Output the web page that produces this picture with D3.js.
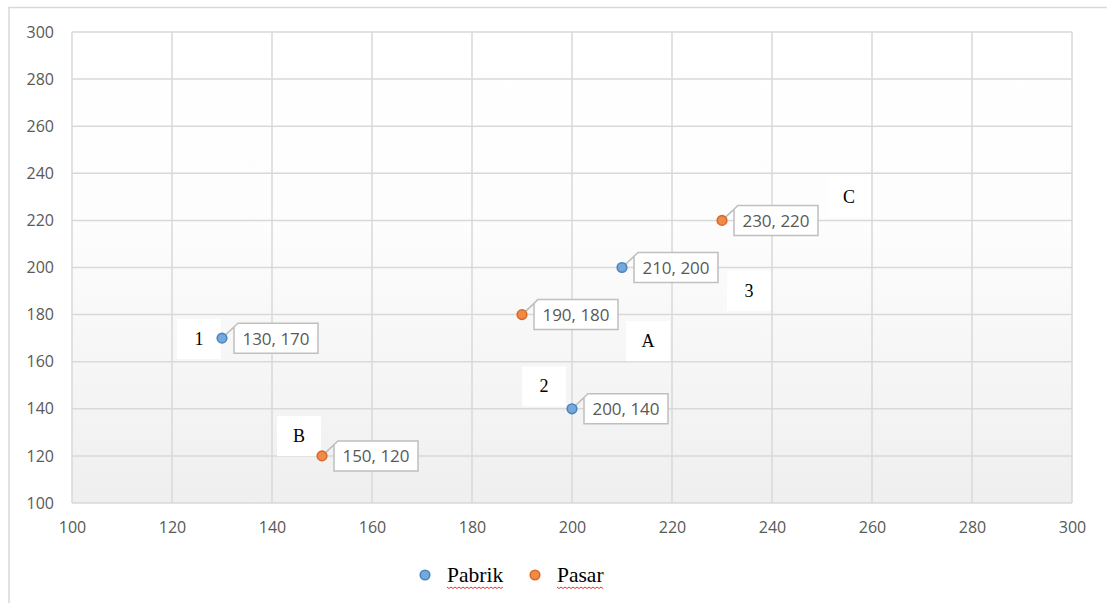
<!DOCTYPE html>
<html>
<head>
<meta charset="utf-8">
<script src="https://cdn.jsdelivr.net/npm/d3@7"></script>
<style>
  body { margin: 0; background: #fff; }
  svg { display: block; }
</style>
</head>
<body>
<svg></svg>
<script>
// Size of the SVG
var width = 1107;
var height = 603;

// Data
var pabrikX = [130, 200, 210];
var pabrikY = [170, 140, 200];
var pasarX = [150, 190, 230];
var pasarY = [120, 180, 220];
var ticks = [100, 120, 140, 160, 180, 200, 220, 240, 260, 280, 300];
var seriesNames = ["Pabrik", "Pasar"];
// free text boxes placed in data coordinates
var noteText = ["1", "B", "2", "A", "3", "C"];
var noteX = [125.4, 145.4, 194.4, 215.2, 235.4, 255.4];
var noteY = [169.6, 128.4, 149.5, 168.7, 190.0, 230.0];

var colors = { Pabrik: ["#75a8dc", "#4a86be"], Pasar: ["#f08a45", "#d8692a"] };

var svg = d3.select("svg").attr("width", width).attr("height", height);

// gradient for the plot area
var grad = svg.append("defs").append("linearGradient")
  .attr("id", "bg").attr("x1", 0).attr("y1", 0).attr("x2", 0).attr("y2", 1);
grad.append("stop").attr("offset", "0%").attr("stop-color", "#ffffff");
grad.append("stop").attr("offset", "40%").attr("stop-color", "#fdfdfd");
grad.append("stop").attr("offset", "100%").attr("stop-color", "#efefef");

// chart outer border (only top and left visible)
svg.append("path")
  .attr("d", "M9,603 V7.5 H1107")
  .attr("fill", "none").attr("stroke", "#d9d9d9").attr("stroke-width", 1.5);

// Scales
var xScale = d3.scaleLinear().domain([100, 300]).range([72, 1072]);
var yScale = d3.scaleLinear().domain([100, 300]).range([503, 32]);

svg.append("rect")
  .attr("x", 72).attr("y", 32).attr("width", 1000).attr("height", 471)
  .attr("fill", "url(#bg)");

// grid
var grid = svg.append("g");
grid.selectAll(".vx").data(ticks).enter().append("line")
  .attr("x1", d => xScale(d)).attr("x2", d => xScale(d))
  .attr("y1", yScale(100)).attr("y2", yScale(300))
  .attr("stroke", "#d9d9d9").attr("stroke-width", 1.5);
grid.selectAll(".hy").data(ticks).enter().append("line")
  .attr("y1", d => yScale(d)).attr("y2", d => yScale(d))
  .attr("x1", xScale(100)).attr("x2", xScale(300))
  .attr("stroke", "#d9d9d9").attr("stroke-width", 1.5);

// Axes
var x_Axis = d3.axisBottom(xScale).tickValues(ticks).tickSize(0).tickPadding(19);
var y_Axis = d3.axisLeft(yScale).tickValues(ticks).tickSize(0).tickPadding(18);

var gx = svg.append("g").attr("transform", "translate(0," + yScale(100) + ")").call(x_Axis);
var gy = svg.append("g").attr("transform", "translate(" + xScale(100) + ",0)").call(y_Axis);
[gx, gy].forEach(g => {
  g.select(".domain").remove();
  g.selectAll("text").attr("fill", "#595959")
    .style("font-family", "'Open Sans', 'Liberation Sans', sans-serif").style("font-size", "16px");
});

// free text boxes
var notes = svg.append("g");
noteText.forEach((t, i) => {
  var cx = xScale(noteX[i]), cy = yScale(noteY[i]);
  notes.append("rect").attr("x", cx - 22).attr("y", cy - 20).attr("width", 44).attr("height", 40)
    .attr("fill", "#ffffff");
  notes.append("text").attr("x", cx).attr("y", cy + 6).attr("text-anchor", "middle")
    .style("font-family", "'Liberation Serif', 'DejaVu Serif', serif").style("font-size", "18px")
    .attr("fill", "#000").text(t);
});

// points and callout labels
function drawSeries(name, xs, ys) {
  var g = svg.append("g");
  xs.forEach((xv, i) => {
    var px = xScale(xv), py = yScale(ys[i]);
    var bx = px + 12, by = py - 15, bw = 84, bh = 30;
    // callout with pointer
    var d = "M" + bx + "," + (by + 4) + " L" + px + "," + py + " L" + (bx + 4) + "," + by +
      " H" + (bx + bw) + " V" + (by + bh) + " H" + bx + " Z";
    g.append("path").attr("d", d).attr("fill", "#ffffff")
      .attr("stroke", "#bfbfbf").attr("stroke-width", 1.5);
    g.append("text").attr("x", bx + bw / 2).attr("y", py + 6.5).attr("text-anchor", "middle")
      .attr("fill", "#595959")
      .style("font-family", "'Open Sans', 'Liberation Sans', sans-serif").style("font-size", "17px")
      .text(xv + ", " + ys[i]);
    g.append("circle").attr("cx", px).attr("cy", py).attr("r", 4.8)
      .attr("fill", colors[name][0]).attr("stroke", colors[name][1]).attr("stroke-width", 1.6);
  });
}
drawSeries("Pabrik", pabrikX, pabrikY);
drawSeries("Pasar", pasarX, pasarY);

// legend
var legend = svg.append("g");
var legX = [425, 535];
seriesNames.forEach((n, i) => {
  legend.append("circle").attr("cx", legX[i]).attr("cy", 575).attr("r", 4.8)
    .attr("fill", colors[n][0]).attr("stroke", colors[n][1]).attr("stroke-width", 1.6);
  var t = legend.append("text").attr("x", legX[i] + 22).attr("y", 582)
    .style("font-family", "'Liberation Serif', 'DejaVu Serif', serif").style("font-size", "21.5px")
    .attr("fill", "#000").text(n);
  var w = t.node().getComputedTextLength();
  // spell-check squiggle
  var x0 = legX[i] + 22, pts = [];
  for (var k = 0; k <= w; k += 2) pts.push([x0 + k, 587 + (k % 4 === 0 ? 0 : 1.5)]);
  legend.append("path").attr("d", d3.line()(pts)).attr("fill", "none")
    .attr("stroke", "#e53935").attr("stroke-width", 1);
});
</script>
</body>
</html>
